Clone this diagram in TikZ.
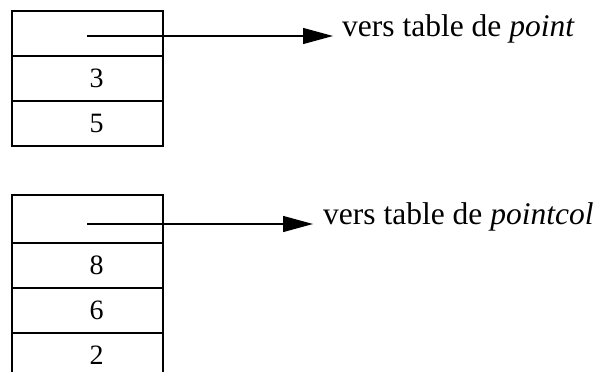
\documentclass[tikz,border=0pt]{standalone}
\usepackage{fontspec}
\setmainfont{Liberation Serif}
\usetikzlibrary{positioning,arrows.meta}

\begin{document}
\begin{tikzpicture}[
  x=1pt,y=-1pt,
  node distance=0pt,
  cell/.style={draw,line width=1.3pt,minimum width=151pt,minimum height=45pt,
               inner sep=0pt,outer sep=0pt},
  val/.style={label={[xshift=9pt,font=\fontsize{28}{32}\selectfont]center:#1}},
  ptr/.style={-{Triangle[length=30pt,width=16pt]},line width=1.3pt},
  dest/.style={anchor=base west,inner sep=0pt,font=\fontsize{31.5}{36}\selectfont}
]
\clip (0,0) rectangle (600,372);

% table of point
\node[cell] (p0) at (87.5,33.5) {};
\node[cell,below=of p0,val=3] (p1) {};
\node[cell,below=of p1,val=5] (p2) {};
\coordinate (ps) at (87,36);
\node[dest] (pl) at (342,36) {vers table de \textit{point}};
\draw[ptr] (ps) -- ([xshift=-9pt]pl.base west);

% table of pointcol
\node[cell,minimum height=48pt] (c0) at (87.5,219) {};
\node[cell,below=of c0,val=8] (c1) {};
\node[cell,below=of c1,val=6] (c2) {};
\node[cell,below=of c2,val=2] (c3) {};
\coordinate (cs) at (87,224);
\node[dest] (cl) at (323,224) {vers table de \textit{pointcol}};
\draw[ptr] (cs) -- ([xshift=-10pt]cl.base west);

\end{tikzpicture}
\end{document}
